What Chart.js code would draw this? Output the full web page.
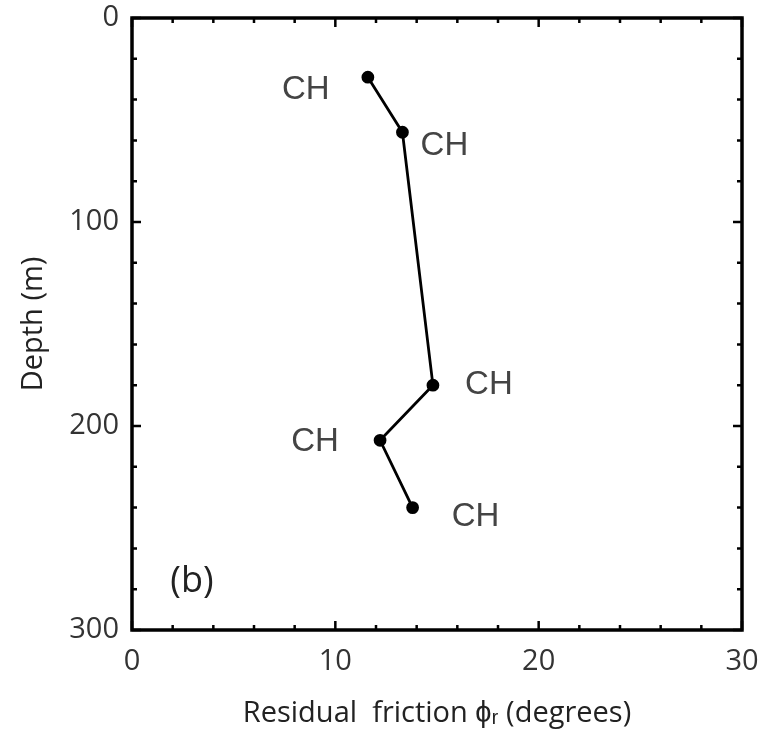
<!DOCTYPE html>
<html>
<head>
<meta charset="utf-8">
<script src="https://cdn.jsdelivr.net/npm/chart.js@4.4.0/dist/chart.umd.min.js"></script>
<style>
  html, body { margin: 0; padding: 0; background: #fff; }
  #wrap { width: 763px; height: 731px; position: relative; }
</style>
</head>
<body>
<div id="wrap"><canvas id="myChart" width="763" height="731"></canvas></div>
<script>
// residual friction (deg) vs depth (m)
var friction = [11.6, 13.3, 14.8, 12.2, 13.8];
var depth = [29, 56, 180, 207, 240];
var soilLabels = ['CH', 'CH', 'CH', 'CH', 'CH'];
var xTicks = [0, 10, 20, 30];
var yTicks = [0, 100, 200, 300];

var points = [];
for (var i = 0; i < friction.length; ++i) {
  points.push({ x: friction[i], y: depth[i] });
}

// where each "CH" sits relative to its point
var labelOffsets = [[-62, 13], [42, 14], [56, 0], [-65, 2], [63, 9]];

var frame = {
  id: 'frame',
  afterDraw: function (chart) {
    var ctx = chart.ctx;
    var a = chart.chartArea;
    var xs = chart.scales.x;
    var ys = chart.scales.y;
    ctx.save();
    ctx.strokeStyle = '#000';
    ctx.lineWidth = 3.5;
    ctx.strokeRect(a.left, a.top, a.right - a.left, a.bottom - a.top);

    ctx.lineWidth = 2.5;
    ctx.beginPath();
    for (var v = 0; v <= 30; v += 2) {
      var len = (v % 10 == 0) ? 9 : 5;
      var px = xs.getPixelForValue(v);
      ctx.moveTo(px, a.bottom); ctx.lineTo(px, a.bottom - len);
      ctx.moveTo(px, a.top); ctx.lineTo(px, a.top + len);
    }
    for (var d = 0; d <= 300; d += 20) {
      var len2 = (d % 100 == 0) ? 9 : 5;
      var py = ys.getPixelForValue(d);
      ctx.moveTo(a.left, py); ctx.lineTo(a.left + len2, py);
      ctx.moveTo(a.right, py); ctx.lineTo(a.right - len2, py);
    }
    ctx.stroke();

    // CH labels
    ctx.fillStyle = '#444';
    ctx.font = '33px "Liberation Sans", Arial, sans-serif';
    ctx.textAlign = 'center';
    ctx.textBaseline = 'middle';
    for (var i = 0; i < points.length; ++i) {
      var x = xs.getPixelForValue(points[i].x) + labelOffsets[i][0];
      var y = ys.getPixelForValue(points[i].y) + labelOffsets[i][1];
      ctx.fillText(soilLabels[i], x, y);
    }

    // panel tag
    ctx.fillStyle = '#222';
    ctx.font = '36px "Open Sans", sans-serif';
    ctx.fillText('(b)', a.left + 60, a.bottom - 48);
    ctx.restore();
  }
};

var tickFont = { family: '"Open Sans", sans-serif', size: 29 };

var ctx = document.getElementById('myChart');
var myChart = new Chart(ctx, {
  type: 'scatter',
  data: {
    datasets: [{
      data: points,
      showLine: true,
      borderColor: '#000',
      backgroundColor: '#000',
      borderWidth: 2.8,
      pointRadius: 5,
      pointHoverRadius: 5
    }]
  },
  options: {
    responsive: false,
    animation: false,
    events: [],
    layout: { padding: { top: 18, right: 21, left: 0, bottom: 0 } },
    plugins: { legend: { display: false }, tooltip: { enabled: false } },
    scales: {
      x: {
        type: 'linear',
        min: 0, max: 30,
        afterBuildTicks: function (s) { s.ticks = xTicks.map(function (v) { return { value: v }; }); },
        afterFit: function (s) { s.height = 101; s.paddingLeft = 0; s.paddingRight = 0; },
        grid: { display: false, drawTicks: false },
        border: { display: false },
        ticks: { color: '#333', font: tickFont, padding: 14, maxRotation: 0 },
        title: {
          display: true,
          text: 'Residual  friction \u03d5\u1d63 (degrees)',
          color: '#222',
          font: { family: '"Open Sans", sans-serif', size: 29 },
          padding: { top: 0, bottom: 0 }
        }
      },
      y: {
        type: 'linear',
        reverse: true,
        min: 0, max: 300,
        afterBuildTicks: function (s) { s.ticks = yTicks.map(function (v) { return { value: v }; }); },
        afterFit: function (s) { s.width = 132; s.paddingTop = 0; s.paddingBottom = 0; },
        grid: { display: false, drawTicks: false },
        border: { display: false },
        ticks: { color: '#333', font: tickFont, padding: 13 },
        title: {
          display: true,
          text: 'Depth (m)',
          color: '#222',
          font: { family: '"Open Sans", sans-serif', size: 29 },
          padding: { top: 16, bottom: 0 }
        }
      }
    }
  },
  plugins: [frame]
});
</script>
</body>
</html>
